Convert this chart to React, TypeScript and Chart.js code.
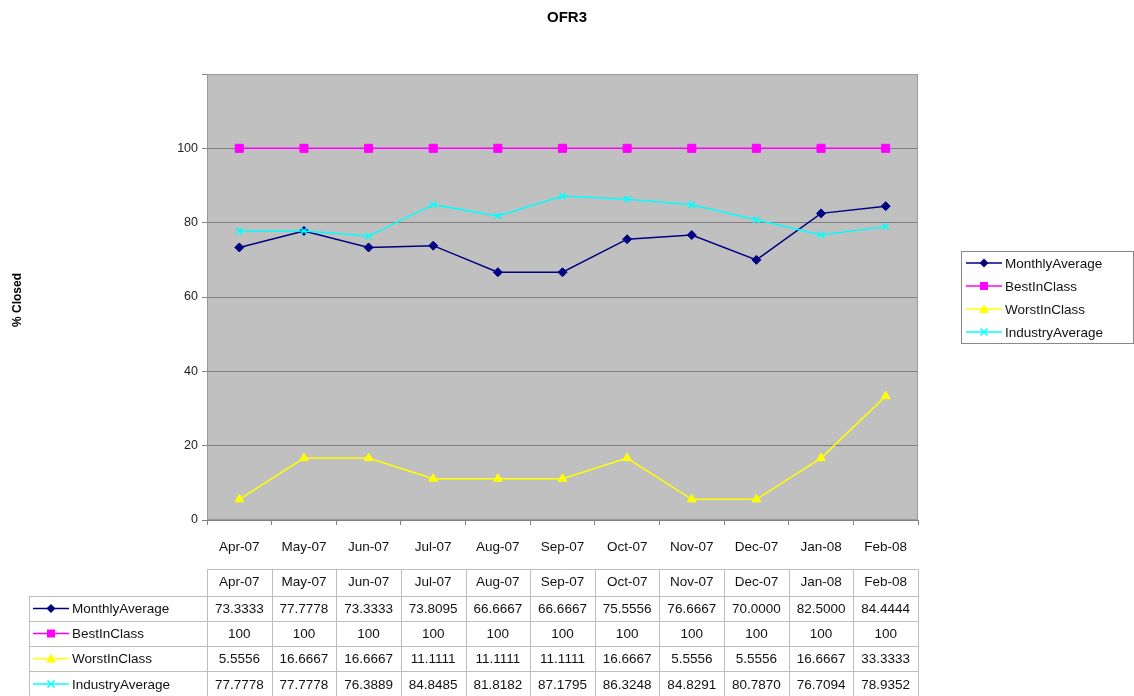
import React, { useEffect, useRef } from "react";
import { Chart, registerables } from "chart.js";

Chart.register(...registerables);

const categories = ["Apr-07", "May-07", "Jun-07", "Jul-07", "Aug-07", "Sep-07", "Oct-07", "Nov-07", "Dec-07", "Jan-08", "Feb-08"];
const monthlyAverage = [73.3333, 77.7778, 73.3333, 73.8095, 66.6667, 66.6667, 75.5556, 76.6667, 70.0, 82.5, 84.4444];
const bestInClass = [100, 100, 100, 100, 100, 100, 100, 100, 100, 100, 100];
const worstInClass = [5.5556, 16.6667, 16.6667, 11.1111, 11.1111, 11.1111, 16.6667, 5.5556, 5.5556, 16.6667, 33.3333];
const industryAverage = [77.7778, 77.7778, 76.3889, 84.8485, 81.8182, 87.1795, 86.3248, 84.8291, 80.787, 76.7094, 78.9352];
const yTicks = [0, 20, 40, 60, 80, 100, 120];

const FONT = "'Liberation Sans', Arial, sans-serif";

type SeriesDef = { label: string; data: number[]; color: string; marker: string; decimals: number };
const series: SeriesDef[] = [
  { label: "MonthlyAverage", data: monthlyAverage, color: "#000080", marker: "rectRot", decimals: 4 },
  { label: "BestInClass", data: bestInClass, color: "#FF00FF", marker: "rect", decimals: 0 },
  { label: "WorstInClass", data: worstInClass, color: "#FFFF00", marker: "triangle", decimals: 4 },
  { label: "IndustryAverage", data: industryAverage, color: "#00FFFF", marker: "crossRot", decimals: 4 },
];

function drawMarker(ctx: CanvasRenderingContext2D, marker: string, x: number, y: number, color: string) {
  ctx.save();
  ctx.fillStyle = color;
  ctx.strokeStyle = color;
  ctx.lineWidth = 1.5;
  ctx.beginPath();
  if (marker === "rectRot") {
    ctx.moveTo(x, y - 4.5);
    ctx.lineTo(x + 4.5, y);
    ctx.lineTo(x, y + 4.5);
    ctx.lineTo(x - 4.5, y);
    ctx.closePath();
    ctx.fill();
  } else if (marker === "rect") {
    ctx.rect(x - 4, y - 4, 8, 8);
    ctx.fill();
  } else if (marker === "triangle") {
    ctx.moveTo(x, y - 5);
    ctx.lineTo(x + 5, y + 4);
    ctx.lineTo(x - 5, y + 4);
    ctx.closePath();
    ctx.fill();
  } else {
    ctx.moveTo(x - 3.5, y - 3.5);
    ctx.lineTo(x + 3.5, y + 3.5);
    ctx.moveTo(x + 3.5, y - 3.5);
    ctx.lineTo(x - 3.5, y + 3.5);
    ctx.stroke();
  }
  ctx.restore();
}

function legendSample(ctx: CanvasRenderingContext2D, s: SeriesDef, x0: number, x1: number, y: number) {
  ctx.save();
  ctx.strokeStyle = s.color;
  ctx.lineWidth = 1.5;
  ctx.beginPath();
  ctx.moveTo(x0, y);
  ctx.lineTo(x1, y);
  ctx.stroke();
  ctx.restore();
  drawMarker(ctx, s.marker, (x0 + x1) / 2, y, s.color);
}

const decorPlugin = {
  id: "decor",
  beforeDraw(chart: any) {
    const { ctx, chartArea: a } = chart;
    ctx.save();
    ctx.fillStyle = "#ffffff";
    ctx.fillRect(0, 0, chart.width, chart.height);
    ctx.fillStyle = "#C0C0C0";
    ctx.fillRect(a.left, a.top, a.right - a.left, a.bottom - a.top);
    ctx.restore();
  },
  afterDraw(chart: any) {
    const { ctx, chartArea: a } = chart;
    const xs = chart.scales.x;
    ctx.save();
    // plot border
    ctx.strokeStyle = "#9a9a9a";
    ctx.lineWidth = 1;
    ctx.strokeRect(a.left + 0.5, a.top + 0.5, a.right - a.left - 1, a.bottom - a.top - 1);

    // title
    ctx.fillStyle = "#000";
    ctx.font = `bold 15px ${FONT}`;
    ctx.textAlign = "center";
    ctx.textBaseline = "middle";
    ctx.fillText("OFR3", 567, 18);

    // y title
    ctx.save();
    ctx.translate(18, 300);
    ctx.rotate(-Math.PI / 2);
    ctx.font = `bold 12px ${FONT}`;
    ctx.fillText("% Closed", 0, 0);
    ctx.restore();

    // legend
    const lx = 961, ly = 251, lw = 172, lh = 92;
    ctx.strokeStyle = "#888";
    ctx.lineWidth = 1;
    ctx.strokeRect(lx + 0.5, ly + 0.5, lw, lh);
    ctx.font = `13.5px ${FONT}`;
    ctx.textAlign = "left";
    ctx.fillStyle = "#111";
    series.forEach((s, i) => {
      const y = 263 + i * 23;
      legendSample(ctx, s, 966, 1002, y);
      ctx.fillStyle = "#111";
      ctx.fillText(s.label, 1005, y + 1);
    });

    // table
    const n = categories.length;
    const colW = (a.right - a.left) / n;
    const rowTops = [569, 596, 621, 646, 671, 697];
    const labelLeft = 29;
    ctx.strokeStyle = "#bdbdbd";
    ctx.lineWidth = 1;
    ctx.beginPath();
    ctx.moveTo(a.left, rowTops[0] + 0.5);
    ctx.lineTo(a.right, rowTops[0] + 0.5);
    for (let r = 1; r < rowTops.length; r++) {
      ctx.moveTo(labelLeft, rowTops[r] + 0.5);
      ctx.lineTo(a.right, rowTops[r] + 0.5);
    }
    for (let i = 0; i <= n; i++) {
      const x = Math.round(a.left + i * colW) + 0.5;
      ctx.moveTo(x, rowTops[0]);
      ctx.lineTo(x, rowTops[rowTops.length - 1]);
    }
    ctx.moveTo(labelLeft + 0.5, rowTops[1]);
    ctx.lineTo(labelLeft + 0.5, rowTops[rowTops.length - 1]);
    ctx.stroke();

    ctx.font = `13.5px ${FONT}`;
    ctx.textBaseline = "middle";
    ctx.fillStyle = "#111";
    ctx.textAlign = "center";
    categories.forEach((c, i) => {
      const cx = xs.getPixelForValue(i);
      ctx.fillText(c, cx, (rowTops[0] + rowTops[1]) / 2);
    });
    series.forEach((s, r) => {
      const cy = (rowTops[r + 1] + rowTops[r + 2]) / 2 + 1;
      legendSample(ctx, s, 33, 69, cy - 1);
      ctx.fillStyle = "#111";
      ctx.textAlign = "left";
      ctx.fillText(s.label, 72, cy);
      ctx.textAlign = "center";
      s.data.forEach((v, i) => {
        const cx = xs.getPixelForValue(i);
        ctx.fillText(v.toFixed(s.decimals), cx, cy);
      });
    });
    ctx.restore();
  },
};

export default function App() {
  const ref = useRef<HTMLCanvasElement | null>(null);
  useEffect(() => {
    document.body.style.margin = "0";
    const canvas = ref.current!;
    const chart = new Chart(canvas, {
      type: "line",
      data: {
        labels: categories,
        datasets: series.map((s, i) => ({
          label: s.label,
          data: s.data,
          borderColor: s.color,
          backgroundColor: s.color,
          borderWidth: 1.5,
          pointStyle: s.marker as any,
          pointRadius: s.marker === "rect" ? 5.7 : s.marker === "triangle" ? 5 : 4.5,
          pointBorderWidth: s.marker === "crossRot" ? 1.5 : 1,
          pointBorderColor: s.color,
          pointBackgroundColor: s.color,
          tension: 0,
          fill: false,
          order: 3 - i,
        })),
      },
      options: {
        animation: false,
        responsive: false,
        maintainAspectRatio: false,
        layout: { padding: { left: 0, right: 216, top: 74, bottom: 0 } },
        plugins: {
          legend: { display: false },
          title: { display: false },
          tooltip: { enabled: false },
        },
        scales: {
          x: {
            type: "category",
            offset: true,
            afterFit: (s: any) => {
              s.height = 176;
            },
            grid: {
              offset: true,
              drawOnChartArea: false,
              drawTicks: true,
              tickLength: 5,
              color: "#808080",
            },
            border: { color: "#808080", width: 1 },
            ticks: {
              autoSkip: false,
              maxRotation: 0,
              minRotation: 0,
              padding: 14,
              color: "#111",
              font: { family: FONT, size: 13.5 },
            },
          },
          y: {
            min: 0,
            max: 120,
            afterFit: (s: any) => {
              s.width = 207;
            },
            afterBuildTicks: (s: any) => {
              s.ticks = yTicks.map((v) => ({ value: v }));
            },
            grid: {
              color: "#808080",
              drawTicks: true,
              tickLength: 5,
            },
            border: { color: "#808080", width: 1 },
            ticks: {
              padding: 4,
              color: "#222",
              font: { family: FONT, size: 12.5 },
              callback: (v: any) => (v === 120 ? "" : String(v)),
            },
          },
        },
      },
      plugins: [decorPlugin],
    });
    return () => chart.destroy();
  }, []);
  return (
    <div style={{ width: 1134, height: 696 }}>
      <canvas ref={ref} width={1134} height={696} style={{ display: "block", width: 1134, height: 696 }} />
    </div>
  );
}
